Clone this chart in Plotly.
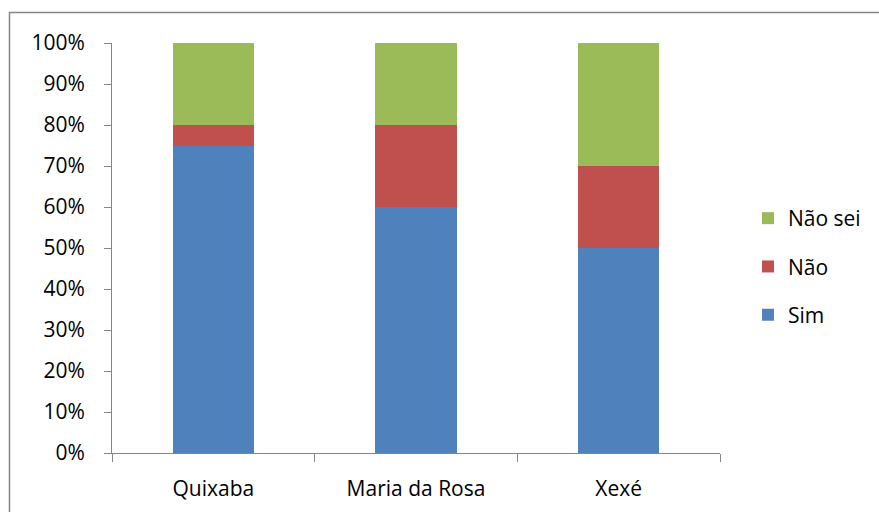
import plotly.graph_objects as go

# Survey answers per community (share of respondents)
communities = ["Quixaba", "Maria da Rosa", "Xexé"]
sim = [0.75, 0.60, 0.50]
nao = [0.05, 0.20, 0.20]
nao_sei = [0.20, 0.20, 0.30]

W, H = 879, 512
L, R, T, B = 112, 720, 43, 453  # plot area in pixels
pw, ph = R - L, B - T


def px_x(x):
    return (x - L) / pw


def px_y(y):
    return (B - y) / ph


axis_color = "#868686"
font_family = "'Open Sans', sans-serif"

fig = go.Figure()
# stacked bottom to top; legend lists them top to bottom
series = [("Sim", sim, "#4F81BD", 3), ("Não", nao, "#C0504D", 2), ("Não sei", nao_sei, "#9BBB59", 1)]
for name, vals, color, rank in series:
    fig.add_trace(go.Bar(
        x=communities, y=vals, name=name, legendgroup=name, legendrank=rank,
        marker=dict(color=color, line=dict(width=0)),
    ))

fig.update_layout(
    width=W, height=H,
    barmode="stack", bargap=0.6,
    margin=dict(l=L, r=W - R, t=T, b=H - B, pad=0, autoexpand=False),
    paper_bgcolor="white", plot_bgcolor="white",
    font=dict(family=font_family, size=21, color="#000000"),
    showlegend=True,
    legend=dict(
        xref="container", yref="container",
        x=748 / W, y=1 - 198 / H, xanchor="left", yanchor="top",
        traceorder="grouped", tracegroupgap=18,
        font=dict(size=21), itemwidth=30,
        bgcolor="rgba(0,0,0,0)",
    ),
    xaxis=dict(
        showline=True, linecolor=axis_color, linewidth=1,
        ticks="outside", tickson="boundaries", ticklen=8, tickcolor=axis_color,
        ticklabelstandoff=17,
        showgrid=False, zeroline=False,
    ),
    yaxis=dict(
        range=[0, 1], dtick=0.1, tickformat=".0%",
        showline=True, linecolor=axis_color, linewidth=1,
        ticks="outside", ticklen=7, tickcolor=axis_color,
        ticklabelstandoff=15,
        showgrid=False, zeroline=False,
    ),
    shapes=[dict(
        type="rect", xref="paper", yref="paper",
        x0=px_x(9.5), x1=px_x(885), y0=px_y(520), y1=px_y(12.5),
        line=dict(color=axis_color, width=1.5), fillcolor="rgba(0,0,0,0)",
        layer="below",
    )],
)

fig.write_html("out.html")
